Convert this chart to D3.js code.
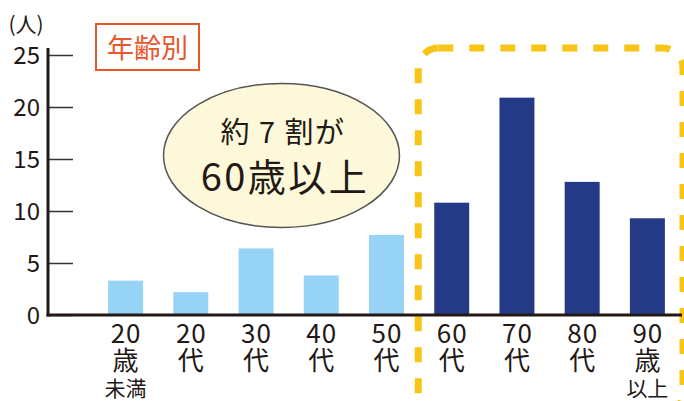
<!DOCTYPE html>
<html>
<head>
<meta charset="utf-8">
<script src="https://cdn.jsdelivr.net/npm/d3@7"></script>
<style>
  body { margin: 0; background: #fff; }
  svg { display: block; font-family: "Noto Sans CJK JP", "Noto Sans", sans-serif; }
</style>
</head>
<body>
<script>
// age groups (label lines), counts in persons, and which group is 60+
var labels = [["20", "歳", "未満"], ["20", "代"], ["30", "代"], ["40", "代"], ["50", "代"],
              ["60", "代"], ["70", "代"], ["80", "代"], ["90", "歳", "以上"]];
var values = [3.3, 2.2, 6.4, 3.8, 7.7, 10.8, 20.9, 12.8, 9.3];
var senior = [0, 0, 0, 0, 0, 1, 1, 1, 1];
var yTicks = [0, 5, 10, 15, 20, 25];

var w = 684, h = 401;
var axisX = 48, baseY = 315;

var svg = d3.select("body").append("svg").attr("width", w).attr("height", h);

var x = d3.scaleBand().domain(d3.range(values.length))
    .range([93, 680]).paddingInner(0.464).paddingOuter(0.232);
var y = d3.scaleLinear().domain([0, 25]).range([baseY, 55]);

// dashed highlight box round the 60+ groups
var first = senior.indexOf(1);
svg.append("rect")
    .attr("x", x(first) - 16).attr("y", 48)
    .attr("width", 683 - (x(first) - 16)).attr("height", 365)
    .attr("rx", 20).attr("ry", 20)
    .attr("fill", "none").attr("stroke", "#F8C516").attr("stroke-width", 7)
    .attr("stroke-dasharray", "15,16");

// bars
svg.selectAll(".bar").data(values).enter().append("rect").attr("class", "bar")
    .attr("x", (d, i) => x(i))
    .attr("y", d => y(d))
    .attr("width", x.bandwidth())
    .attr("height", d => baseY - y(d))
    .attr("fill", (d, i) => senior[i] ? "#243A86" : "#97D3F5");

// y axis: ticks go inward, labels on the left
var yAxis = d3.axisLeft(y).tickValues(yTicks).tickSizeInner(-25).tickSizeOuter(0).tickPadding(8);
var gy = svg.append("g").attr("transform", "translate(" + axisX + ",0)").call(yAxis);
gy.select(".domain").remove();
gy.selectAll(".tick line").attr("stroke", "#333").attr("stroke-width", 1.5);
gy.selectAll(".tick text").attr("font-size", 24).attr("fill", "#231815")
    .attr("font-family", "'Noto Sans CJK JP', sans-serif").attr("dy", "0.34em");

// axis lines
svg.append("line").attr("x1", axisX).attr("x2", axisX).attr("y1", 48).attr("y2", baseY + 1.5)
    .attr("stroke", "#231815").attr("stroke-width", 3);
svg.append("line").attr("x1", axisX - 1.5).attr("x2", 682).attr("y1", baseY).attr("y2", baseY)
    .attr("stroke", "#231815").attr("stroke-width", 3);

// x labels
var lab = svg.selectAll(".xlab").data(labels).enter().append("text").attr("class", "xlab")
    .attr("text-anchor", "middle").attr("fill", "#231815");
lab.each(function (lines, i) {
    var t = d3.select(this);
    var cx = x(i) + x.bandwidth() / 2;
    lines.forEach(function (s, j) {
        t.append("tspan").attr("x", cx + (j == 0 ? 0.5 : 0))
            .attr("y", [343, 370, 396][j])
            .attr("font-size", [26, 26, 21][j])
            .attr("letter-spacing", j == 0 ? 1 : 0)
            .text(s);
    });
});

// unit label
svg.append("text").attr("x", 26).attr("y", 32).attr("text-anchor", "middle")
    .attr("font-size", 21).attr("fill", "#231815").text("(人)");

// title box
svg.append("rect").attr("x", 96).attr("y", 24).attr("width", 103).attr("height", 46)
    .attr("fill", "#fff").attr("stroke", "#E6572C").attr("stroke-width", 2);
svg.append("text").attr("x", 147.5).attr("y", 58).attr("text-anchor", "middle")
    .attr("font-size", 27).attr("fill", "#E6572C").text("年齢別");

// callout
svg.append("ellipse").attr("cx", 281.5).attr("cy", 155.5).attr("rx", 118).attr("ry", 72)
    .attr("fill", "#FDF8D9").attr("stroke", "#555").attr("stroke-width", 1.5);
svg.append("text").attr("x", 283).attr("y", 143).attr("text-anchor", "middle")
    .attr("font-size", 29).attr("letter-spacing", 1.5).attr("fill", "#231815").text("約 7 割が");
svg.append("text").attr("x", 285).attr("y", 191).attr("text-anchor", "middle")
    .attr("font-size", 38).attr("letter-spacing", 2.5).attr("fill", "#231815").text("60歳以上");
</script>
</body>
</html>
